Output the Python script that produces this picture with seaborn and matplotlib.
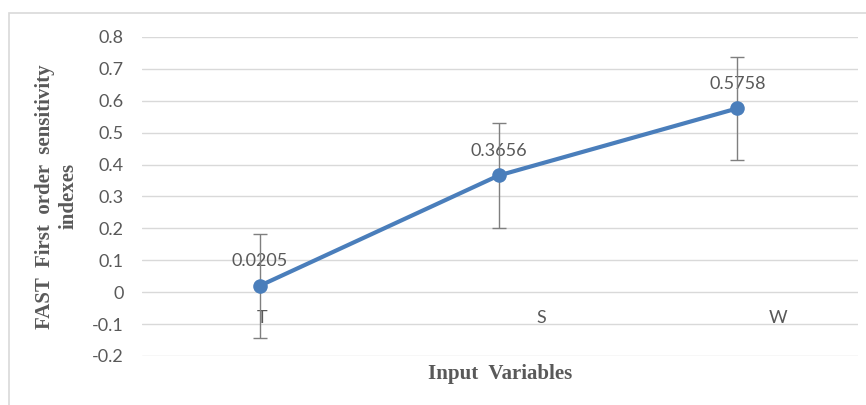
import seaborn as sns
import pandas as pd
import matplotlib.pyplot as plt
from matplotlib.patches import Rectangle

# data
variables = ['T', 'S', 'W']
fast_index = [0.0205, 0.3656, 0.5758]
index_err = [0.163, 0.163, 0.162]
value_labels = ['0.0205', '0.3656', '0.5758']
# category labels sit a bit off the points in the original
label_pos = [0.01, 1.18, 2.17]
y_ticks = [-0.2, -0.1, 0, 0.1, 0.2, 0.3, 0.4, 0.5, 0.6, 0.7, 0.8]

df = pd.DataFrame({'Variable': variables, 'Index': fast_index, 'pos': [0, 1, 2]})

sns.set_theme(style='white')
plt.rcParams['font.family'] = ['Lato', 'DejaVu Sans']
grey = '#595959'
blue = '#4A7EBB'

fig = plt.figure(figsize=(8.66, 4.05), dpi=100)
ax = fig.add_axes([0.164, 0.121, 0.827, 0.788])

ax.errorbar(df['pos'], df['Index'], yerr=index_err, fmt='none',
            ecolor='#7F7F7F', elinewidth=1, capsize=5, capthick=1, zorder=4)
sns.lineplot(x='pos', y='Index', data=df, color=blue, linewidth=3,
             marker='o', markersize=10.5, markeredgewidth=0, ax=ax, zorder=5)

for x, y, s in zip(df['pos'], fast_index, value_labels):
    ax.annotate(s, (x, y), xytext=(0, 12), textcoords='offset points',
                ha='center', va='bottom', fontsize=13, color=grey, zorder=3)

for x, s in zip(label_pos, variables):
    ax.text(x, -0.082, s, ha='center', va='center', fontsize=13, color=grey)

ax.set_xlim(-0.495, 2.507)
ax.set_ylim(-0.2, 0.8)
ax.set_yticks(y_ticks)
ax.set_yticklabels([f'{t:g}' for t in y_ticks], fontsize=13, color=grey)
ax.set_xticks([])
ax.tick_params(axis='y', length=0, pad=13)
ax.grid(axis='y', color='#D9D9D9', linewidth=1)
ax.set_axisbelow(True)
for sp in ax.spines.values():
    sp.set_visible(False)

ax.set_xlabel('Input  Variables', family='Liberation Serif', fontweight='bold',
              fontsize=15, color=grey, labelpad=6)
ax.set_ylabel('FAST  First  order  sensitivity\nindexes', family='Liberation Serif',
              fontweight='bold', fontsize=15, color=grey, labelpad=10,
              linespacing=1.25)

fig.patches.append(Rectangle((9 / 866, -0.01), 1.0, 1 - 13 / 405 + 0.01,
                             transform=fig.transFigure, fill=False,
                             edgecolor='#D9D9D9', linewidth=1.2))

plt.savefig('out.png', dpi=100)
